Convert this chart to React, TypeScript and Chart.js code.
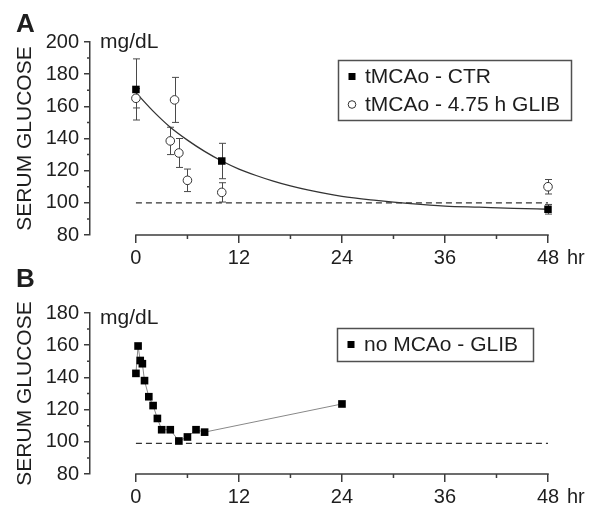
import React, { useEffect, useRef } from 'react';
import { Chart, registerables } from 'chart.js';
Chart.register(...registerables);

// ---------- Panel A data ----------
const ctrTimes = [0, 10, 48];
const ctrValues = [170.5, 126, 96];
const ctrErrors = [19, 11, 3];

const glibTimes = [0, 4, 4.5, 5, 6, 10, 48];
const glibValues = [165, 138.5, 164, 131, 114, 106.5, 110];
const glibErrors = [6, 8.5, 14, 9, 7, 6, 4.5];

const fitTimes = [0, 2, 4, 6, 8, 10, 12, 14, 16, 18, 20, 24, 28, 32, 36, 40, 44, 48];
const fitValues = [168.5, 157, 147, 139, 132, 126, 121, 117, 113.5, 110.5, 108, 104, 101.5, 99.5, 98, 97.3, 96.6, 96];

const baselineTimes = [0, 48];
const baselineA = [100, 100];

// ---------- Panel B data ----------
const noMcaoTimes = [0, 0.25, 0.5, 0.75, 1, 1.5, 2, 2.5, 3, 4, 5, 6, 7, 8, 24];
const noMcaoValues = [142.5, 159.5, 150.5, 148.5, 138, 128, 122.5, 114.5, 107.5, 107.5, 100.5, 103, 107.5, 106, 123.5];
const baselineB = [99, 99];

// ---------- Ticks ----------
const xTicks = [0, 12, 24, 36, 48];
const xMinorTicks = [6, 18, 30, 42];
const yTicksA = [80, 100, 120, 140, 160, 180, 200];
const yMinorA = [90, 110, 130, 150, 170, 190];
const yTicksB = [80, 100, 120, 140, 160, 180];
const yMinorB = [90, 110, 130, 150, 170];

const TEXT = '#1e1e1e';
const AXIS = '#3c3c3c';
const FONT = "'Liberation Sans', Arial, Helvetica, sans-serif";

const pts = (xs: number[], ys: number[]) => xs.map((x, i) => ({ x, y: ys[i] }));

type LegendItem = { ds: number; style: 'rect' | 'circle'; y: number };

function extrasPlugin(o: any) {
  return {
    id: 'extras' + o.letter,
    beforeDatasetsDraw(chart: any) {
      const ctx = chart.ctx;
      const xs = chart.scales.x;
      const ys = chart.scales.y;
      ctx.save();
      ctx.strokeStyle = '#4a4a4a';
      ctx.lineWidth = 1;
      for (const eb of o.errorBars) {
        eb.times.forEach((t: number, i: number) => {
          const px = Math.round(xs.getPixelForValue(t)) + 0.5;
          const v = eb.values[i];
          const e = eb.errors[i];
          const y1 = ys.getPixelForValue(v + e);
          const y2 = ys.getPixelForValue(v - e);
          ctx.beginPath();
          ctx.moveTo(px, y1);
          ctx.lineTo(px, y2);
          ctx.moveTo(px - 3.5, y1);
          ctx.lineTo(px + 3.5, y1);
          ctx.moveTo(px - 3.5, y2);
          ctx.lineTo(px + 3.5, y2);
          ctx.stroke();
        });
      }
      ctx.restore();
    },
    afterDraw(chart: any) {
      const ctx = chart.ctx;
      const xs = chart.scales.x;
      const ys = chart.scales.y;
      const area = chart.chartArea;
      ctx.save();
      // detached x axis line and minor ticks
      ctx.strokeStyle = AXIS;
      ctx.lineWidth = 1.5;
      ctx.beginPath();
      const x0 = xs.getPixelForValue(xTicks[0]);
      const x1 = xs.getPixelForValue(xTicks[xTicks.length - 1]);
      const yb = area.bottom;
      ctx.moveTo(x0 - 0.75, yb);
      ctx.lineTo(x1 + 0.75, yb);
      for (const t of xMinorTicks) {
        const p = xs.getPixelForValue(t);
        ctx.moveTo(p, yb);
        ctx.lineTo(p, yb + 4);
      }
      for (const v of o.yMinor) {
        const p = ys.getPixelForValue(v);
        ctx.moveTo(area.left, p);
        ctx.lineTo(area.left - 3, p);
      }
      ctx.stroke();

      // texts
      ctx.fillStyle = TEXT;
      ctx.textAlign = 'left';
      ctx.textBaseline = 'alphabetic';
      ctx.font = `bold 26px ${FONT}`;
      ctx.fillText(o.letter, 16, o.letterBaseline);
      ctx.font = `21px ${FONT}`;
      ctx.fillText('mg/dL', 100, o.unitBaseline);
      ctx.font = `20px ${FONT}`;
      ctx.textBaseline = 'middle';
      ctx.fillText('hr', x1 + 19, yb + 8 + 3 + 12);

      // legend box
      const [bx, by, bw, bh] = o.legendBox;
      ctx.fillStyle = '#fff';
      ctx.fillRect(bx, by, bw, bh);
      ctx.strokeStyle = '#505050';
      ctx.lineWidth = 1.5;
      ctx.strokeRect(bx + 0.5, by + 0.5, bw, bh);
      for (const it of o.legend as LegendItem[]) {
        const mx = bx + 14;
        if (it.style === 'rect') {
          ctx.fillStyle = '#000';
          ctx.fillRect(mx - 3.5, it.y - 3.5, 7, 7);
        } else {
          ctx.beginPath();
          ctx.arc(mx, it.y, 3.8, 0, Math.PI * 2);
          ctx.fillStyle = '#fff';
          ctx.fill();
          ctx.strokeStyle = '#333';
          ctx.lineWidth = 1;
          ctx.stroke();
        }
        ctx.fillStyle = TEXT;
        ctx.font = `21px ${FONT}`;
        ctx.textBaseline = 'middle';
        ctx.fillText(chart.data.datasets[it.ds].label, bx + 27, it.y + 1);
      }
      ctx.restore();
    },
  };
}

function scales(yMin: number, yMax: number, yTicks: number[]) {
  return {
    x: {
      type: 'linear',
      min: -5.35,
      max: 48,
      afterBuildTicks: (s: any) => {
        s.ticks = xTicks.map((v) => ({ value: v }));
      },
      afterFit: (s: any) => {
        s.height = 30;
      },
      border: { display: false },
      grid: { drawOnChartArea: false, drawTicks: true, tickLength: 8, color: AXIS, lineWidth: 1.5 },
      ticks: { font: { family: FONT, size: 20 }, color: TEXT, padding: 3, maxRotation: 0, autoSkip: false },
    },
    y: {
      type: 'linear',
      min: yMin,
      max: yMax,
      afterBuildTicks: (s: any) => {
        s.ticks = yTicks.map((v) => ({ value: v }));
      },
      afterFit: (s: any) => {
        s.width = 90;
      },
      border: { display: true, color: AXIS, width: 1.5 },
      grid: { drawOnChartArea: false, drawTicks: true, tickLength: 6, color: AXIS, lineWidth: 1.5 },
      ticks: { font: { family: FONT, size: 20 }, color: TEXT, padding: 5, autoSkip: false },
      title: {
        display: true,
        text: 'SERUM GLUCOSE',
        font: { family: FONT, size: 21 },
        color: TEXT,
        padding: { top: 13, bottom: 0 },
      },
    },
  };
}

export default function App() {
  const refA = useRef<HTMLCanvasElement>(null);
  const refB = useRef<HTMLCanvasElement>(null);

  useEffect(() => {
    const chartA = new Chart(refA.current as HTMLCanvasElement, {
      type: 'scatter',
      data: {
        datasets: [
          {
            label: 'tMCAo - CTR',
            data: pts(ctrTimes, ctrValues),
            pointStyle: 'rect',
            pointRadius: 5.3,
            backgroundColor: '#000',
            borderColor: '#000',
            borderWidth: 0,
            showLine: false,
            clip: false,
          },
          {
            label: 'tMCAo - 4.75 h GLIB',
            data: pts(glibTimes, glibValues),
            pointStyle: 'circle',
            pointRadius: 4.3,
            backgroundColor: '#fff',
            borderColor: '#333',
            borderWidth: 1,
            showLine: false,
            clip: false,
          },
          {
            label: 'fit',
            data: pts(fitTimes, fitValues),
            showLine: true,
            pointRadius: 0,
            borderColor: '#333',
            borderWidth: 1.3,
            cubicInterpolationMode: 'monotone',
            clip: false,
          },
          {
            label: 'baseline',
            data: pts(baselineTimes, baselineA),
            showLine: true,
            pointRadius: 0,
            borderColor: '#333',
            borderWidth: 1.3,
            borderDash: [6, 4],
            clip: false,
          },
        ],
      } as any,
      options: {
        animation: false,
        responsive: false,
        events: [],
        layout: { padding: { top: 42, right: 52, bottom: 252, left: 0 } },
        plugins: { legend: { display: false }, tooltip: { enabled: false } },
        scales: scales(80, 200, yTicksA) as any,
      },
      plugins: [
        extrasPlugin({
          letter: 'A',
          letterBaseline: 32,
          unitBaseline: 48,
          yMinor: yMinorA,
          legendBox: [338, 60, 233, 60],
          legend: [
            { ds: 0, style: 'rect', y: 76.5 },
            { ds: 1, style: 'circle', y: 104.5 },
          ],
          errorBars: [
            { times: ctrTimes, values: ctrValues, errors: ctrErrors },
            { times: glibTimes, values: glibValues, errors: glibErrors },
          ],
        }),
      ],
    });

    const chartB = new Chart(refB.current as HTMLCanvasElement, {
      type: 'scatter',
      data: {
        datasets: [
          {
            label: 'no MCAo - GLIB',
            data: pts(noMcaoTimes, noMcaoValues),
            pointStyle: 'rect',
            pointRadius: 5.4,
            backgroundColor: '#000',
            borderColor: '#888',
            pointBorderColor: '#000',
            pointBorderWidth: 0,
            borderWidth: 1,
            showLine: true,
            tension: 0,
            clip: false,
          },
          {
            label: 'baseline',
            data: pts(baselineTimes, baselineB),
            showLine: true,
            pointRadius: 0,
            borderColor: '#333',
            borderWidth: 1.3,
            borderDash: [6, 4],
            clip: false,
          },
        ],
      } as any,
      options: {
        animation: false,
        responsive: false,
        events: [],
        layout: { padding: { top: 313, right: 52, bottom: 13, left: 0 } },
        plugins: { legend: { display: false }, tooltip: { enabled: false } },
        scales: scales(80, 180, yTicksB) as any,
      },
      plugins: [
        extrasPlugin({
          letter: 'B',
          letterBaseline: 287,
          unitBaseline: 324,
          yMinor: yMinorB,
          legendBox: [337, 328, 196, 33],
          legend: [{ ds: 0, style: 'rect', y: 344.5 }],
          errorBars: [],
        }),
      ],
    });

    return () => {
      chartA.destroy();
      chartB.destroy();
    };
  }, []);

  const cs: React.CSSProperties = { position: 'absolute', left: 0, top: 0 };
  return (
    <div style={{ position: 'fixed', left: 0, top: 0, width: 600, height: 517, background: '#fff' }}>
      <canvas ref={refA} width={600} height={517} style={cs} />
      <canvas ref={refB} width={600} height={517} style={cs} />
    </div>
  );
}
